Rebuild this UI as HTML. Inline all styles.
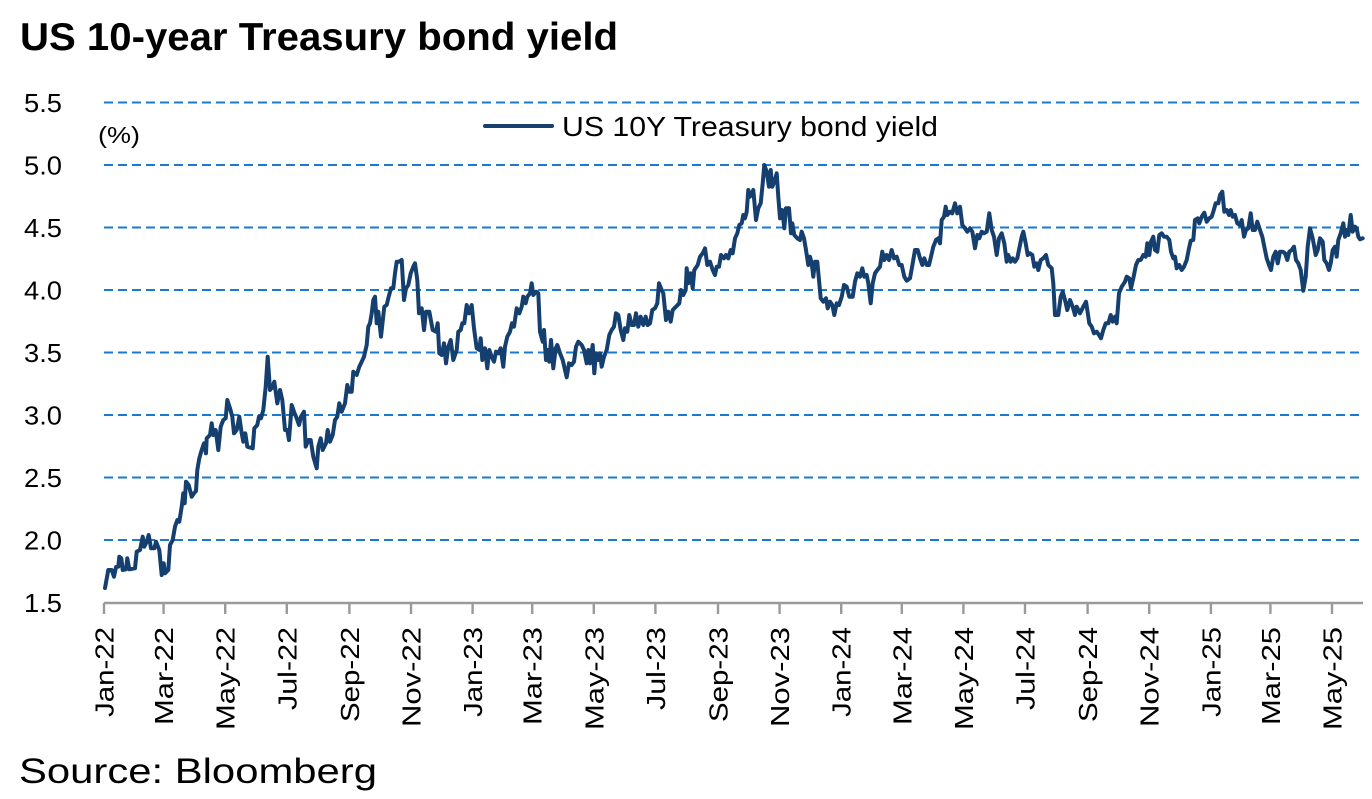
<!DOCTYPE html>
<html>
<head>
<meta charset="utf-8">
<style>
  html,body{margin:0;padding:0;background:#fff;}
  svg{display:block;}
  text{font-family:"Liberation Sans", Arial, sans-serif;fill:#000;}
</style>
</head>
<body>
<svg width="1372" height="799" viewBox="0 0 1372 799" xmlns="http://www.w3.org/2000/svg">
  <rect width="1372" height="799" fill="#fff"/>
  <!-- Title -->
  <text x="20" y="50" font-size="39" font-weight="bold" textLength="598" lengthAdjust="spacingAndGlyphs">US 10-year Treasury bond yield</text>

  <!-- Gridlines -->
  <g stroke="#1a7ad0" stroke-width="1.9" stroke-dasharray="9 5" fill="none">
    <line x1="104" y1="102.5" x2="1363" y2="102.5"/>
    <line x1="104" y1="165" x2="1363" y2="165"/>
    <line x1="104" y1="227.5" x2="1363" y2="227.5"/>
    <line x1="104" y1="290" x2="1363" y2="290"/>
    <line x1="104" y1="352.5" x2="1363" y2="352.5"/>
    <line x1="104" y1="415" x2="1363" y2="415"/>
    <line x1="104" y1="477.5" x2="1363" y2="477.5"/>
    <line x1="104" y1="540" x2="1363" y2="540"/>
  </g>

  <!-- Y labels -->
  <g font-size="26">
    <text x="24" y="112" textLength="38" lengthAdjust="spacingAndGlyphs">5.5</text>
    <text x="24" y="174.5" textLength="38" lengthAdjust="spacingAndGlyphs">5.0</text>
    <text x="24" y="237" textLength="38" lengthAdjust="spacingAndGlyphs">4.5</text>
    <text x="24" y="299.5" textLength="38" lengthAdjust="spacingAndGlyphs">4.0</text>
    <text x="24" y="362" textLength="38" lengthAdjust="spacingAndGlyphs">3.5</text>
    <text x="24" y="424.5" textLength="38" lengthAdjust="spacingAndGlyphs">3.0</text>
    <text x="24" y="487" textLength="38" lengthAdjust="spacingAndGlyphs">2.5</text>
    <text x="24" y="549.5" textLength="38" lengthAdjust="spacingAndGlyphs">2.0</text>
    <text x="24" y="612" textLength="38" lengthAdjust="spacingAndGlyphs">1.5</text>
  </g>
  <text x="98" y="143" font-size="23" textLength="42" lengthAdjust="spacingAndGlyphs">(%)</text>

  <!-- Legend -->
  <line x1="485" y1="126" x2="552" y2="126" stroke="#143f6e" stroke-width="4" stroke-linecap="round"/>
  <text x="562" y="136" font-size="28" textLength="376" lengthAdjust="spacingAndGlyphs">US 10Y Treasury bond yield</text>

  <!-- Axis -->
  <g stroke="#9a9a9a" stroke-width="2.4" fill="none">
    <line x1="104" y1="603" x2="1363" y2="603"/>
    <line x1="104" y1="603" x2="104" y2="614"/>
    <line x1="163.6" y1="603" x2="163.6" y2="614"/>
    <line x1="225.2" y1="603" x2="225.2" y2="614"/>
    <line x1="286.8" y1="603" x2="286.8" y2="614"/>
    <line x1="349.4" y1="603" x2="349.4" y2="614"/>
    <line x1="411" y1="603" x2="411" y2="614"/>
    <line x1="472.6" y1="603" x2="472.6" y2="614"/>
    <line x1="532.2" y1="603" x2="532.2" y2="614"/>
    <line x1="593.8" y1="603" x2="593.8" y2="614"/>
    <line x1="655.4" y1="603" x2="655.4" y2="614"/>
    <line x1="718" y1="603" x2="718" y2="614"/>
    <line x1="779.6" y1="603" x2="779.6" y2="614"/>
    <line x1="841.2" y1="603" x2="841.2" y2="614"/>
    <line x1="901.8" y1="603" x2="901.8" y2="614"/>
    <line x1="963.4" y1="603" x2="963.4" y2="614"/>
    <line x1="1025" y1="603" x2="1025" y2="614"/>
    <line x1="1087.6" y1="603" x2="1087.6" y2="614"/>
    <line x1="1149.2" y1="603" x2="1149.2" y2="614"/>
    <line x1="1210.9" y1="603" x2="1210.9" y2="614"/>
    <line x1="1270.4" y1="603" x2="1270.4" y2="614"/>
    <line x1="1332" y1="603" x2="1332" y2="614"/>
  </g>

  <!-- X labels -->
  <g font-size="26" text-anchor="end">
    <text transform="translate(113.5,627) rotate(-90)" textLength="90" lengthAdjust="spacingAndGlyphs">Jan-22</text>
    <text transform="translate(173.1,627) rotate(-90)" textLength="98" lengthAdjust="spacingAndGlyphs">Mar-22</text>
    <text transform="translate(234.7,627) rotate(-90)" textLength="103" lengthAdjust="spacingAndGlyphs">May-22</text>
    <text transform="translate(296.3,627) rotate(-90)" textLength="83" lengthAdjust="spacingAndGlyphs">Jul-22</text>
    <text transform="translate(358.9,627) rotate(-90)" textLength="95" lengthAdjust="spacingAndGlyphs">Sep-22</text>
    <text transform="translate(420.5,627) rotate(-90)" textLength="100" lengthAdjust="spacingAndGlyphs">Nov-22</text>
    <text transform="translate(482.1,627) rotate(-90)" textLength="90" lengthAdjust="spacingAndGlyphs">Jan-23</text>
    <text transform="translate(541.7,627) rotate(-90)" textLength="98" lengthAdjust="spacingAndGlyphs">Mar-23</text>
    <text transform="translate(603.3,627) rotate(-90)" textLength="103" lengthAdjust="spacingAndGlyphs">May-23</text>
    <text transform="translate(664.9,627) rotate(-90)" textLength="83" lengthAdjust="spacingAndGlyphs">Jul-23</text>
    <text transform="translate(727.5,627) rotate(-90)" textLength="95" lengthAdjust="spacingAndGlyphs">Sep-23</text>
    <text transform="translate(789.1,627) rotate(-90)" textLength="100" lengthAdjust="spacingAndGlyphs">Nov-23</text>
    <text transform="translate(850.7,627) rotate(-90)" textLength="90" lengthAdjust="spacingAndGlyphs">Jan-24</text>
    <text transform="translate(911.3,627) rotate(-90)" textLength="98" lengthAdjust="spacingAndGlyphs">Mar-24</text>
    <text transform="translate(972.9,627) rotate(-90)" textLength="103" lengthAdjust="spacingAndGlyphs">May-24</text>
    <text transform="translate(1034.5,627) rotate(-90)" textLength="83" lengthAdjust="spacingAndGlyphs">Jul-24</text>
    <text transform="translate(1097.1,627) rotate(-90)" textLength="95" lengthAdjust="spacingAndGlyphs">Sep-24</text>
    <text transform="translate(1158.7,627) rotate(-90)" textLength="100" lengthAdjust="spacingAndGlyphs">Nov-24</text>
    <text transform="translate(1220.4,627) rotate(-90)" textLength="90" lengthAdjust="spacingAndGlyphs">Jan-25</text>
    <text transform="translate(1279.9,627) rotate(-90)" textLength="98" lengthAdjust="spacingAndGlyphs">Mar-25</text>
    <text transform="translate(1341.5,627) rotate(-90)" textLength="103" lengthAdjust="spacingAndGlyphs">May-25</text>
  </g>

  <!-- Series -->
  <polyline fill="none" stroke="#143f6e" stroke-width="4" stroke-linejoin="round" stroke-linecap="round" points="
105,588 108.3,570 111.7,570 114,576.7 116,567 118.3,566.7 119.3,556.7 121.3,558.3 122.7,570 126,569.3 127.3,558.3 129.3,569.3 135,568.3 136.7,551.7 140,550 142.7,536.7 144.3,546.7 146.7,541.7 148.7,535 151,548.3 154.3,548.3 156,541.7 159.3,550 161.7,575 163.7,563.3 165,573.3 168.3,570 170,545 172.7,540 175,526.7 177.3,520 179.3,521.7 181.7,506.7 183.3,493.3 184.7,503.3 186,481.7 188.7,485 191.7,496.7 194,493.3 196,491 197.3,470 199.3,458.3 201.7,450 204,443.3 206,453.3 206.7,438.3 210,435 211.7,423.3 213.3,435 215.7,430 218.3,450 220.7,426.7 223.3,420 225.7,418.3 227.3,400 230,408.3 232.3,416.7 234,433.3 236.7,430 239.3,416.7 241.7,433.3 243.3,441.7 245.3,433.3 247.3,446.7 252.7,448.3 254.3,428.3 257.3,425 259,416.7 261,418.3 263.3,410 265.7,386.7 267.7,356.7 270,390 272.7,386.7 274.3,381.7 277.3,403.3 280,390 282.3,400 285,430 287.3,430 289,440 291.7,405 294,411.7 296.7,418.3 299,425 301,416.7 304,411.7 305.7,446.7 308.3,440 310.7,440 313.3,456.7 316.7,468.3 318.3,446.7 320.7,438.3 322.7,450 326,443.3 327.7,430 330,441.7 332.7,435 335,420 337.3,416.7 339.3,403.3 341.7,411.7 345,403.3 347.3,385 349.3,391.7 351.7,391.7 353.3,371.7 356.7,375 359.3,366.7 361.7,361.7 364,356.7 366.7,345 368.3,326.7 370,323.3 371.7,313.3 373.3,300 375,296.7 376.7,323.3 378.3,311.7 381,336.7 384.3,306.7 386.7,305 388.7,296.7 391,288.3 393.3,288.3 395,273.3 396.7,261.7 399,261.7 401.7,260 404,300 406,288.3 408.3,285 410.7,273.3 413.3,266.7 415,263.3 417.3,280 419,313.3 421.7,308.3 424,330 426,311.7 429.3,311.7
432.7,330 436,331.7 437.7,323.3 439.3,353.3 441.7,355 444,343.3 446,363.3 448.3,346.7 450.7,340 453.3,360 456.7,350 458.3,331.7 460.7,330 462.3,323.3 464.3,323.3 466.7,305 469,313.3 471.7,305 474,328.3 476.7,348.3 479.3,350 480.7,338.3 482.3,360 485,348.3 487.3,368.3 489.3,350 491.7,356.7 494,361.7 496,351.7 498.3,353.3 500.7,348.3 503.3,366.7 505,346.7 507.3,336.7 510,331.7 512,323.3 514,326.7 516.7,308.3 519.3,313.3 521.7,306.7 523.3,296.7 525.7,303.3 527.3,296.7 530,293.3 531.7,283.3 533.3,295 536,291.7 538.3,293.3 540,331.7 542.7,341.7 544,330 546,360 547.7,350 549.3,361.7 551,340 553.3,368.3 555.7,348.3 557.3,345 560,353.3 562.7,360 565,370 566.7,377.3 569,363.3 571.7,365 574,361.7 576,346.7 578.3,341.7 581.7,345 584,350 586.7,363.3 588.3,350 590,363.3 592.7,345 594.3,373.3 596,353.3 598.3,360 600,353.3 601.7,366.7 604,356.7 606.7,350 609.3,335 611.7,330 614,326.7 616,313.3 618.3,315 620.7,330 623.3,340 625,328.3 627.3,331.7 629.3,315 631.7,325 634,325 636,313.3 638.3,326.7 640.7,316.7 643.3,325 645.7,316.7 647.7,325 650,323.3 652.3,310 655,308.3 657.3,303.3 659,283.3 661,288.3 663.3,293.3 666,320 668.3,311.7 670.7,321.7 672.7,310 676,306.7 679.3,303.3 681,290 683.3,295 685.7,290 686.7,268.3 688.3,283.3 690.7,273.3 692.7,288.3 694.3,270 697.7,265 700,256.7 702.7,253.3 705,248.3 707.3,265 710,261.7 712.7,270 715,275 716.7,266.7 719,266.7 721,255 724,258.3 726,255 728.3,258.3 730.7,250 732.7,253.3 735,238.3 737.3,233.3 739.3,225 741.7,223.3 743.3,215 745,218.3 746.7,211.7 748.3,190 750,196.7
753.3,190 756,220 758.3,208.3 760.7,203.3 762.7,183.3 764.3,165 766.7,171.7 769,186.7 770.7,170 772.3,186.7 775,180 776.7,173.3 778.3,196.7 780,218.3 782.3,210 784.3,228.3 786,208.3 789,208.3 791,233.3 792.3,223.3 794.3,235 797.3,238.3 800,240 801.7,231.7 804,238.3 806,250 808.3,265 810,256.7 811.7,263.3 813.3,276.7 815,261.7 817.3,261.7 819,280 820.7,298.3 823.3,301.7 826,298.3 827.7,308.3 830,301.7 832.3,305 834.3,315 836.7,303.3 839,305 841.7,296.7 844,285 846.7,286.7 849.3,296.7 852.7,296.7 855,281.7 857.3,273.3 860,276.7 862.3,268.3 864.3,276.7 866.7,275 868.3,283.3 870.7,303.3 872.7,283.3 875,273.3 877.3,270 880,266.7 882.3,251.7 884.3,260 886.7,255 889,260 891.7,250 894,258.3 896.7,256.7 899.3,265 901.7,265 904.3,276.7 906.7,280.7 910,278.3 912.7,263.3 915,250 917.7,250 920,258.3 922.3,265 924.3,258.3 926.7,265 929,265 931,256.7 933.3,246.7 936,240 938.3,238.3 940,243.3 941.7,220 944,216.7 945.7,206.7 947.3,215 950,211.7 952.3,213.3 955,203.3 957.3,213.3 960,206.7 962.3,225 965,228.3 967.3,231.7 970,228.3 972.3,231.7 975,248.3 977.3,235 979.3,238.3 981.7,231.7 984,233.3 986.7,231.7 989.3,213.3 991.7,230 994,236.7 996.7,255 999,238.3 1001.7,233.3 1004.3,243.3 1006.7,261.7 1008.3,255 1010.7,261.7 1012.7,258.3 1015,261.7 1017.3,258.3 1019.3,248.3 1021.7,236.7 1023.3,231.7 1025.7,243.3 1027.7,255 1030,253.3 1032.3,255 1034.3,266.7 1036.7,263.3 1038.3,270 1040.7,260 1043.3,258.3 1046,255 1048.3,265 1051.7,268.3 1053.3,283.3 1055,315 1058.3,315 1060.7,296.7 1062.7,291.7 1065,300 1067.3,310 1070,300
1072.7,306.7 1075,315 1076.7,306.7 1080,313.3 1083.3,306.7 1086,301.7 1087.3,310 1089.3,323.3 1091.7,326.7 1094,333.3 1096.7,331.7 1099,335 1101,338.3 1103.3,330 1105.7,323.3 1108.3,323.3 1110.7,315 1112.7,321.7 1115,316.7 1116.7,323.3 1119,293.3 1121.7,286.7 1125,281.7 1126.7,276.7 1129.3,278.3 1131,288.3 1133.3,278.3 1136,265 1138.3,260 1140.7,260 1143.3,255 1145.7,256.7 1147.3,243.3 1149.3,255 1151,241.7 1153.3,236.7 1155,250 1157.3,251.7 1159.3,235 1161.7,233.3 1164,236.7 1166.7,236.7 1169.3,240 1171,251.7 1173.3,258.3 1175,256.7 1176.7,268.3 1179.3,265 1181.7,270 1184,266.7 1186.7,260 1189,248.3 1190.7,240.7 1193.3,240 1195,220 1197.7,218.3 1199.3,223.3 1201.7,216.7 1204.3,212.7 1206.7,221.7 1209.3,218.3 1211.7,216.7 1213.3,211.7 1215.7,203.3 1218.3,203.3 1220,195 1222.3,191.7 1224.3,211.7 1226.7,210 1229,215 1230.7,210 1232.7,216.7 1235,215 1237.3,223.3 1240,225 1241.7,220 1244,236.7 1246,230 1248.3,228.3 1250.7,213.3 1252.7,230 1255,230 1257.3,221.7 1260,230 1262.3,236.7 1264.3,246.7 1266.7,258.3 1269,265 1271,270 1273.3,256.7 1275.7,251.7 1277.7,263.3 1280,251.7 1282.7,251.7 1285,253.3 1287.3,260 1289.3,251.7 1291.7,250 1294,246.7 1296,260 1298.3,263.3 1300.7,270 1303.3,290.7 1305.7,276.7 1307.7,246.7 1310,228.3 1312.7,238.3 1315.7,255 1317.7,250 1320,238.3 1322.7,241.7 1324.3,260 1326.7,263.3 1329,270 1330.7,263.3 1332.7,250 1335,246.7 1336.7,256.7 1338.3,240 1340.7,233.3 1343.3,223.3 1345,236.7 1346.7,230 1348.3,235 1350.7,215 1352.7,231.7 1355,226.7 1356.7,228.3 1358.3,236.7 1360,239.3 1362.7,238.3"/>

  <!-- Source -->
  <text x="19" y="783" font-size="35" textLength="358" lengthAdjust="spacingAndGlyphs">Source: Bloomberg</text>
</svg>
</body>
</html>
